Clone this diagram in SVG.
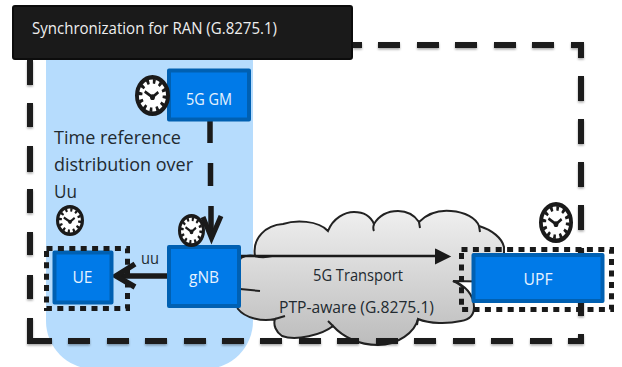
<svg xmlns="http://www.w3.org/2000/svg" width="622" height="367" viewBox="0 0 622 367">
<style>
.t{font-family:"Open Sans","Noto Sans","Liberation Sans",sans-serif}
.n{fill:#007ae8;stroke:#0060b2;stroke-width:4;stroke-linejoin:round}
.nt{fill:#e6f2ff;font-size:17px;text-anchor:middle}
.dk{fill:#222a30}
.dot{fill:none;stroke:#1a1a1a;stroke-width:5;stroke-dasharray:6 5.4}
</style>
<defs>
<linearGradient id="cg" x1="0" y1="0" x2="0" y2="1"><stop offset="0" stop-color="#efefef"/><stop offset="1" stop-color="#bcbcbc"/></linearGradient>
<filter id="sh" x="-5%" y="-5%" width="110%" height="110%"><feDropShadow dx="0" dy="1.5" stdDeviation="1.2" flood-color="#000" flood-opacity=".35"/></filter>
<symbol id="clock" viewBox="-18 -18 36 36" overflow="visible" preserveAspectRatio="none">
<circle cx="0" cy="0" r="16" fill="#fff" stroke="#1a1a1a" stroke-width="4"/>
<circle cx="0" cy="0" r="12.500" fill="none" stroke="#1a1a1a" stroke-width="4" stroke-dasharray="2.800 3.745"/>
<path d="M-8 -3.500L0 1.500L6 -3" fill="none" stroke="#1a1a1a" stroke-width="2.600"/>
<circle cx="0" cy="1.500" r="2.500" fill="#1a1a1a"/>
</symbol>
</defs>
<path id="panel" d="M46 50H253V321A48 48 0 0 1 205 369H94A48 48 0 0 1 46 321Z" fill="#b6dcfd"/>
<g id="cloud">
<path d="M241 258C246 255 251 255 255 256C252 238 266 225 283 224C295 220 318 220 328 231C333 218 345 212 354 212C364 212 371 217 374 224C380 214 390 211 398 211C408 211 415 216 419 222C428 213 440 210 451 211C465 212 476 218 479 226C492 230 502 238 504 247L504 282L453 281C465 285 474 295 474 307C474 316 468 320 461 321C448 324 430 324 418 319C415 332 398 345 378 345C358 345 342 336 333 326C322 335 296 341 282 336C276 332 273 325 275 319C262 322 245 318 238 309C232 295 232 268 241 258Z" fill="url(#cg)" stroke="#222" stroke-width="2"/>
<path d="M240 289L260 291M255 256C262 258 268 257 272 256M374 224C373 227 373 229 374 231M419 222L420 228M479 226L480 232M453 281C458 283 462 286 464 289M275 319L285 316M333 326L328 321M418 319L417 325" fill="none" stroke="#222" stroke-width="2"/>
</g>
<g id="connectors" stroke="#1a1a1a" fill="none">
<path id="boundary" stroke-width="6" filter="url(#sh)" d="M30 60V85M30 103V127M30 146V172M30 189V213M30 232V255M30 275V299M30 318V341H52M68 341H90M107 341H129M145 341H167M184 341H206M222 341H244M260 341H282M299 341H321M337 341H359M376 341H398M414 341H436M453 341H475M491 341H513M530 341H552M568 341H581V334M581 316V291M581 273V248M581 230V205M581 187V162M581 144V119M581 101V76M581 58V45H571M554 45H532M516 45H494M477 45H455M439 45H417M400 45H378M362 45H353"/>
<path d="M210 120V143M210.500 163V186M211 206V236" stroke-width="5.500"/>
<path d="M203 217L211.500 238L221 216" stroke-width="5"/>
<path d="M167 276H118" stroke-width="5.500"/>
<path d="M135 264L116 276L135 287" stroke-width="5.500"/>
<path d="M240 256H440" stroke-width="2.400"/>
<path d="M436 250L449 256.500L436 263Z" fill="#1a1a1a" stroke-width="2"/>
</g>
<g id="title"><rect x="13" y="6" width="339" height="53" rx="2" fill="#1a1a1a" stroke="#0c0c0c" stroke-width="2"/>
<text class="t" x="32" y="34" font-size="17" fill="#eeeeee" textLength="245" lengthAdjust="spacingAndGlyphs">Synchronization for RAN (G.8275.1)</text></g>
<g id="gm"><rect class="n" x="169" y="70.500" width="80" height="49"/><text class="t nt" x="209" y="105" textLength="46" lengthAdjust="spacingAndGlyphs">5G GM</text></g>
<use id="clock-gm" href="#clock" x="135" y="75" width="35" height="41"/>
<g id="desc"><text class="t dk" x="54" y="143.500" font-size="19" textLength="127" lengthAdjust="spacingAndGlyphs">Time reference</text>
<text class="t dk" x="54" y="171" font-size="19" textLength="139" lengthAdjust="spacingAndGlyphs">distribution over</text>
<text class="t dk" x="54" y="198" font-size="19" textLength="23" lengthAdjust="spacingAndGlyphs">Uu</text></g>
<use id="clock-ue" href="#clock" x="56" y="205" width="28" height="31"/>
<use id="clock-upf" href="#clock" x="539" y="202" width="34" height="41"/>
<g id="ue"><rect class="n" x="54.500" y="252.500" width="57" height="50"/><text class="t nt" x="82.500" y="283" textLength="20" lengthAdjust="spacingAndGlyphs">UE</text>
<rect class="dot" x="46.500" y="248.500" width="81" height="60"/></g>
<text id="uu" class="t dk" x="141" y="264" font-size="16" textLength="18" lengthAdjust="spacingAndGlyphs">uu</text>
<g id="gnb"><rect class="n" x="169" y="247" width="70" height="59"/><text class="t nt" x="204" y="283" textLength="30" lengthAdjust="spacingAndGlyphs">gNB</text></g>
<use id="clock-gnb" href="#clock" x="178" y="214" width="27" height="33"/>
<g id="upf"><rect class="n" x="473.500" y="255" width="129" height="46"/><text class="t nt" x="538" y="285" textLength="29" lengthAdjust="spacingAndGlyphs">UPF</text>
<rect class="dot" x="461.500" y="249.500" width="150" height="60"/></g>
<text id="tr" class="t dk" x="358" y="281" font-size="16" text-anchor="middle" textLength="90" lengthAdjust="spacingAndGlyphs">5G Transport</text>
<text id="ptp" class="t dk" x="279" y="313" font-size="16" textLength="155" lengthAdjust="spacingAndGlyphs">PTP-aware (G.8275.1)</text>
</svg>
